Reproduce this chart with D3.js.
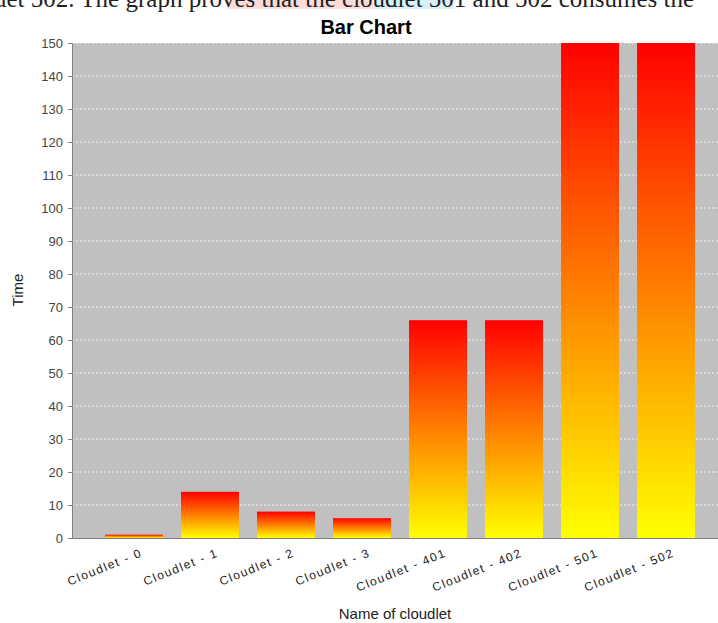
<!DOCTYPE html>
<html>
<head>
<meta charset="utf-8">
<script src="https://cdn.jsdelivr.net/npm/d3@7"></script>
<style>
  html, body { margin: 0; padding: 0; background: #fff; }
  svg { display: block; }
</style>
</head>
<body>
<svg id="chart" width="718" height="623"></svg>
<script>
// Execution time per cloudlet
const categories = ["Cloudlet - 0", "Cloudlet - 1", "Cloudlet - 2", "Cloudlet - 3",
                    "Cloudlet - 401", "Cloudlet - 402", "Cloudlet - 501", "Cloudlet - 502"];
const times = [1, 14, 8, 6, 66, 66, 150, 150];
const yTicks = d3.range(0, 151, 10);

const svg = d3.select("#chart");
const W = 718, H = 623;
const plot = { left: 72, top: 43, right: 728, bottom: 538 };

// Fragment of the surrounding document text, cut by the page top, with its highlights
svg.append("rect").attr("x", 228).attr("y", 0).attr("width", 145).attr("height", 9)
  .attr("fill", "#fbd3d0").attr("opacity", 0.8);
svg.append("rect").attr("x", 374).attr("y", 0).attr("width", 80).attr("height", 9)
  .attr("fill", "#cdeef8").attr("opacity", 0.8);
svg.append("text")
  .attr("x", -6).attr("y", 7)
  .attr("font-family", "Liberation Serif, Times New Roman, serif")
  .attr("font-size", 25).attr("fill", "#222")
  .text("uet 502. The graph proves that the cloudlet 501 and 502 consumes the");

const x = d3.scaleBand()
  .domain(categories)
  .range([plot.left, plot.right])
  .paddingInner(0.237)
  .paddingOuter(0.434);

const y = d3.scaleLinear()
  .domain([0, 150])
  .range([plot.bottom, plot.top]);

// Plot background
svg.append("rect")
  .attr("x", plot.left).attr("y", plot.top)
  .attr("width", W - plot.left).attr("height", plot.bottom - plot.top)
  .attr("fill", "#c0c0c0");

// Gridlines
svg.append("g").selectAll("line")
  .data(yTicks.filter(d => d > 0))
  .join("line")
  .attr("x1", plot.left).attr("x2", W)
  .attr("y1", d => y(d)).attr("y2", d => y(d))
  .attr("stroke", "#ffffff").attr("stroke-width", 1)
  .attr("stroke-dasharray", "2,2").attr("opacity", 0.8);

// Red-to-yellow gradient per bar
const defs = svg.append("defs");
const grad = defs.append("linearGradient")
  .attr("id", "barGrad").attr("x1", 0).attr("y1", 0).attr("x2", 0).attr("y2", 1);
grad.append("stop").attr("offset", "0%").attr("stop-color", "#ff0000");
grad.append("stop").attr("offset", "100%").attr("stop-color", "#ffff00");

defs.append("clipPath").attr("id", "plotClip")
  .append("rect").attr("x", plot.left).attr("y", plot.top)
  .attr("width", W - plot.left).attr("height", plot.bottom - plot.top);

svg.append("g").attr("clip-path", "url(#plotClip)")
  .selectAll("rect")
  .data(categories.map((c, i) => ({ c, v: times[i] })))
  .join("rect")
  .attr("x", d => x(d.c))
  .attr("width", x.bandwidth())
  .attr("y", d => y(d.v))
  .attr("height", d => y(0) - y(d.v))
  .attr("fill", "url(#barGrad)");

// Y axis
const yAxis = d3.axisLeft(y).tickValues(yTicks).tickSize(4).tickPadding(5);
const gy = svg.append("g").attr("transform", `translate(${plot.left},0)`).call(yAxis);
gy.select(".domain").attr("stroke", "#808080");
gy.selectAll(".tick line").attr("stroke", "#808080");
gy.selectAll(".tick text")
  .attr("font-family", "Liberation Sans, Arial, sans-serif")
  .attr("font-size", 13).attr("fill", "#444");

// X axis
const xAxis = d3.axisBottom(x).tickSize(0).tickPadding(0);
const gx = svg.append("g").attr("transform", `translate(0,${plot.bottom})`).call(xAxis);
gx.select(".domain").attr("stroke", "#808080").attr("d", `M${plot.left},0.5H${W}`);
gx.selectAll(".tick text")
  .attr("font-family", "Liberation Sans, Arial, sans-serif")
  .attr("font-size", 12).attr("fill", "#222")
  .attr("letter-spacing", "1.5px")
  .attr("text-anchor", "end")
  .attr("dy", null).attr("y", 0)
  .attr("transform", "translate(9,18) rotate(-22)");

// Title
svg.append("text")
  .attr("x", 366).attr("y", 34)
  .attr("text-anchor", "middle")
  .attr("font-family", "Liberation Sans, Arial, sans-serif")
  .attr("font-weight", "bold").attr("font-size", 20).attr("fill", "#000")
  .text("Bar Chart");

// Axis titles
svg.append("text")
  .attr("transform", "translate(23,290) rotate(-90)")
  .attr("text-anchor", "middle")
  .attr("font-family", "Liberation Sans, Arial, sans-serif")
  .attr("font-size", 15).attr("fill", "#222")
  .text("Time");

svg.append("text")
  .attr("x", 395).attr("y", 619)
  .attr("text-anchor", "middle")
  .attr("font-family", "Liberation Sans, Arial, sans-serif")
  .attr("font-size", 15).attr("fill", "#222")
  .text("Name of cloudlet");
</script>
</body>
</html>
